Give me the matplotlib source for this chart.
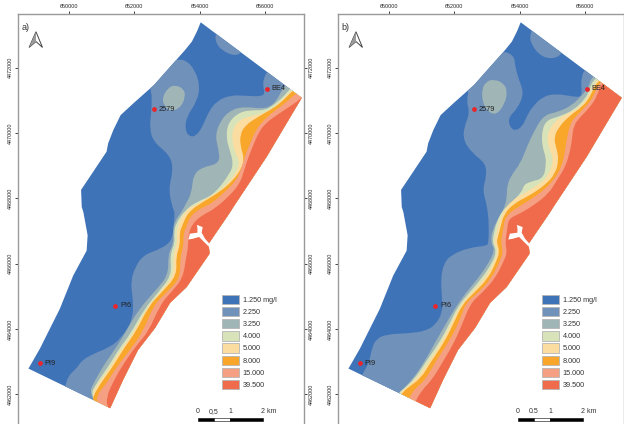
import matplotlib
matplotlib.use('Agg')
import matplotlib.pyplot as plt
from matplotlib.patches import Patch, PathPatch, Polygon, Rectangle
from matplotlib.path import Path

plt.rcParams['font.family'] = ['Liberation Sans', 'DejaVu Sans']

# all map vertices are km east of 650000 / km north of 4462000
classes = ['1.250 mg/l', '2.250', '3.250', '4.000', '5.000', '8.000', '15.000', '39.500']
colors = ['#3F73B8', '#7091B9', '#A0B5B6', '#D9E3B9', '#FBDDA2', '#F8A72B', '#F5A083', '#EF6B4B']

xticks_km = [650, 652, 654, 656]
yticks_km = [4462, 4464, 4466, 4468, 4470, 4472]

wells = ['BE4', '2579', 'PI6', 'PI9']
well_e = [6.05, 2.61, 1.42, -0.89]
well_n = [9.35, 8.73, 2.72, 0.96]

outline = [(4.03, 11.39), (7.12, 9.08), (6.05, 7.28), (5.03, 5.74), (4.93, 5.58), (4.27, 4.61),
           (4.30, 4.31), (3.60, 3.29), (3.09, 2.80), (2.63, 2.03), (2.11, 1.36), (1.65, 0.44), (1.26, -0.42),
           (-1.24, 0.79), (-0.89, 1.40), (-0.28, 2.62), (0.13, 3.64), (0.54, 4.40), (0.57, 4.87),
           (0.44, 5.58), (0.39, 5.74), (0.37, 6.26), (1.15, 7.43), (1.20, 7.69), (1.36, 8.10), (1.58, 8.55),
           (1.97, 8.91), (2.60, 9.47), (3.55, 10.54), (3.76, 10.80), (3.91, 11.10)]

estuary = [(3.91, 5.19), (4.09, 5.12), (4.06, 4.95), (4.16, 4.77), (4.34, 4.56), (4.27, 4.53),
           (4.09, 4.71), (3.98, 4.82), (3.81, 4.77), (3.65, 4.74), (3.70, 4.92), (3.93, 4.95),
           (3.93, 5.09)]

# panel a) closed patches
a_patch_225 = [(4.47, 11.00), (4.50, 10.75), (4.67, 10.54), (5.03, 10.36), (5.32, 10.46), (5.50, 11.0), (4.60, 11.4)]
a_patch_325 = [(3.24, 9.47), (3.50, 9.37), (3.57, 9.11), (3.40, 8.76), (3.09, 8.66), (2.89, 8.87), (2.86, 9.11), (3.04, 9.39)]

# panel a) class boundaries, NE edge to SW edge
a_225 = [(6.15, 9.98), (5.97, 9.74), (5.93, 9.44), (6.00, 9.21), (5.87, 9.12), (5.44, 9.14), (4.93, 9.16),
         (4.52, 8.98), (4.27, 8.65), (4.06, 8.14), (3.86, 7.89), (3.65, 7.91), (3.55, 8.14), (3.60, 8.50),
         (3.91, 8.96), (4.01, 9.42), (3.86, 9.93), (3.55, 10.26), (3.19, 10.23), (2.99, 10.08), (2.38, 9.62),
         (2.53, 9.32), (2.53, 8.71), (2.46, 8.19), (2.58, 7.73), (3.09, 7.32), (3.19, 6.87), (3.04, 6.26),
         (3.19, 5.64), (3.24, 5.58), (3.19, 5.07), (3.17, 4.85), (3.05, 4.60), (2.68, 4.41),
         (2.28, 4.26), (2.02, 3.90), (1.89, 3.44), (1.94, 3.03), (1.97, 2.62), (1.92, 2.32), (1.82, 2.06),
         (1.56, 1.70), (1.26, 1.45), (0.74, 1.24), (0.39, 1.04), (0.23, 0.79), (-0.02, 0.58), (-0.12, 0.22),
         (-0.22, 0.02)]
a_325 = [(6.66, 9.47), (6.51, 9.31), (6.36, 9.01), (6.15, 8.80), (5.85, 8.75), (5.44, 8.80), (5.03, 8.75),
         (4.67, 8.45), (4.47, 7.94), (4.57, 7.53), (4.62, 7.07), (4.06, 6.95), (3.80, 6.71), (3.75, 6.15),
         (3.55, 5.79), (3.45, 5.59), (3.23, 5.30), (3.18, 4.95), (3.20, 4.63), (3.03, 4.27), (3.04, 3.64),
         (2.60, 3.13), (2.12, 2.58), (1.77, 1.97), (1.46, 1.46), (1.10, 0.95), (0.80, 0.44), (0.57, -0.05)]
a_400 = [(6.76, 9.36), (6.56, 9.11), (6.25, 8.85), (6.00, 8.70), (5.64, 8.70), (5.23, 8.65), (4.88, 8.34),
         (4.80, 7.89), (4.93, 7.43), (5.03, 7.07), (4.93, 6.76), (4.42, 6.10), (3.91, 5.90), (3.55, 5.64),
         (3.27, 5.24), (3.21, 4.93), (3.24, 4.63), (3.09, 4.27), (3.14, 3.64), (2.73, 3.13), (2.28, 2.58),
         (1.89, 1.87), (1.54, 1.41), (1.17, 0.80), (0.87, 0.39), (0.60, -0.10)]
a_500 = [(6.87, 9.36), (6.66, 9.16), (6.36, 8.85), (6.05, 8.65), (5.74, 8.55), (5.28, 8.45), (5.03, 8.19),
         (4.98, 7.83), (5.08, 7.38), (5.23, 7.12), (5.13, 6.81), (4.77, 6.35), (4.31, 6.05), (3.80, 5.76),
         (3.60, 5.66), (3.35, 5.24), (3.29, 4.93), (3.31, 4.63), (3.19, 4.27), (3.21, 3.64), (2.79, 3.13),
         (2.33, 2.58), (1.97, 1.87), (1.61, 1.41), (1.24, 0.80), (0.93, 0.39), (0.62, -0.10)]
a_800 = [(6.92, 9.36), (6.76, 9.21), (6.46, 8.91), (6.15, 8.70), (5.79, 8.50), (5.39, 8.24), (5.23, 7.94),
         (5.25, 7.58), (5.36, 7.22), (5.28, 6.92), (5.03, 6.56), (4.62, 6.20), (4.11, 5.90), (3.65, 5.59),
         (3.45, 5.14), (3.38, 4.93), (3.40, 4.58), (3.27, 4.22), (3.30, 3.64), (2.84, 3.13), (2.43, 2.69),
         (2.05, 1.92), (1.71, 1.46), (1.31, 0.80), (1.00, 0.39), (0.73, -0.07), (0.74, -0.20)]
a_1500 = [(7.02, 9.26), (6.89, 9.16), (6.61, 8.91), (6.25, 8.65), (5.90, 8.34), (5.69, 8.04), (5.54, 7.68),
          (5.39, 7.32), (5.28, 6.92), (5.13, 6.56), (4.82, 6.25), (4.37, 5.84), (4.01, 5.69), (3.70, 5.44),
          (3.60, 5.14), (3.50, 4.93), (3.50, 4.53), (3.40, 4.17), (3.40, 3.54), (2.94, 3.08), (2.60, 2.74),
          (2.26, 1.92), (1.87, 1.36), (1.46, 0.85), (1.15, 0.34), (0.85, -0.02), (0.87, -0.30)]
a_3950 = [(7.17, 9.16), (7.05, 9.01), (6.66, 8.75), (6.36, 8.55), (6.00, 8.29), (5.79, 7.99), (5.64, 7.63),
          (5.49, 7.27), (5.36, 6.86), (5.23, 6.46), (4.93, 6.10), (4.47, 5.69), (4.11, 5.50), (3.95, 5.38),
          (3.80, 5.24), (3.65, 4.93), (3.65, 4.53), (3.58, 4.17), (3.48, 3.54), (3.08, 3.08), (2.79, 2.74),
          (2.43, 1.92), (2.07, 1.51), (1.61, 0.85), (1.33, 0.34), (1.15, -0.07), (1.17, -0.45)]

# panel b) closed patches
b_patch_225 = [(4.31, 11.00), (4.34, 10.75), (4.59, 10.39), (4.95, 10.26), (5.31, 10.39), (5.41, 11.05), (4.44, 11.36)]
b_patch_325 = [(3.21, 9.65), (3.52, 9.52), (3.62, 9.27), (3.55, 8.91), (3.29, 8.55), (3.01, 8.66), (2.86, 8.96), (2.84, 9.32), (2.96, 9.57)]

# panel b) class boundaries
b_225 = [(6.02, 10.03), (5.87, 9.67), (5.90, 9.27), (5.87, 9.11), (5.66, 9.11), (5.10, 9.21), (4.69, 9.11),
         (4.39, 8.80), (4.23, 8.55), (4.08, 8.19), (3.83, 8.06), (3.67, 8.24), (3.67, 8.50), (3.93, 8.75),
         (4.13, 9.21), (3.98, 9.62), (3.86, 10.03), (3.83, 10.39), (3.37, 10.54), (2.30, 9.47), (2.45, 9.30),
         (2.37, 9.01), (2.47, 8.60), (2.30, 8.19), (2.27, 7.79), (2.55, 7.38), (2.96, 7.07), (2.98, 6.66),
         (2.86, 6.26), (3.01, 5.74), (3.06, 5.15), (3.04, 4.64), (3.00, 4.55), (2.45, 4.49), (1.94, 4.29),
         (1.68, 4.03), (1.58, 3.52), (1.63, 2.91), (1.63, 2.50), (1.43, 2.14), (1.12, 1.94), (0.61, 1.87),
         (-0.10, 1.84), (-0.41, 1.68), (-0.53, 1.38), (-0.61, 0.97), (-0.82, 0.61), (-0.87, 0.46)]
b_325 = [(6.20, 9.78), (6.12, 9.41), (5.91, 9.16), (5.60, 8.85), (5.19, 8.65), (4.73, 8.55), (4.43, 8.04),
         (4.22, 7.58), (4.02, 7.07), (3.71, 6.66), (3.61, 6.35), (3.61, 6.10), (3.56, 5.79), (3.41, 5.49),
         (3.16, 5.05), (3.11, 4.64), (3.24, 4.44), (3.06, 4.03), (2.70, 3.52), (2.35, 3.11), (1.98, 2.58),
         (1.72, 2.12), (1.42, 1.61), (1.06, 0.95), (0.70, 0.44), (0.35, 0.08), (0.20, -0.05)]
b_400 = [(6.28, 9.72), (6.12, 9.30), (6.01, 9.06), (5.65, 8.70), (5.19, 8.50), (4.83, 8.40), (4.68, 8.09),
         (4.68, 7.63), (4.78, 7.32), (4.81, 7.07), (4.73, 6.61), (4.32, 6.51), (4.12, 6.41), (4.07, 6.20),
         (3.71, 5.84), (3.46, 5.62), (3.29, 5.26), (3.21, 4.95), (3.16, 4.64), (3.29, 4.39), (3.16, 4.03),
         (2.81, 3.52), (2.45, 3.11), (2.10, 2.69), (1.83, 2.12), (1.52, 1.56), (1.16, 1.05), (0.80, 0.49),
         (0.40, 0.13), (0.25, 0.0)]
b_500 = [(6.33, 9.68), (6.11, 9.11), (5.80, 8.75), (5.45, 8.60), (5.04, 8.34), (4.83, 7.94), (4.89, 7.53),
         (5.04, 7.22), (4.89, 6.71), (4.63, 6.46), (4.22, 6.20), (3.76, 5.95), (3.46, 5.55), (3.35, 5.20),
         (3.27, 4.90), (3.21, 4.64), (3.34, 4.39), (3.21, 4.03), (2.91, 3.52), (2.52, 3.11), (2.16, 2.69),
         (1.88, 2.12), (1.59, 1.56), (1.21, 1.0), (0.86, 0.49), (0.45, 0.13), (0.30, 0.0)]
b_800 = [(6.38, 9.65), (6.16, 9.11), (5.91, 8.80), (5.55, 8.55), (5.19, 8.19), (5.04, 7.83), (5.14, 7.48),
         (5.19, 7.17), (5.09, 6.76), (4.78, 6.41), (4.32, 6.10), (3.81, 5.84), (3.51, 5.50), (3.42, 5.15),
         (3.34, 4.85), (3.29, 4.64), (3.39, 4.39), (3.27, 4.03), (3.01, 3.52), (2.60, 3.11), (2.23, 2.74),
         (1.98, 2.18), (1.67, 1.56), (1.28, 1.0), (0.98, 0.49), (0.55, 0.19), (0.37, 0.0), (0.33, -0.10)]
b_1500 = [(6.44, 9.62), (6.26, 9.11), (6.01, 8.80), (5.70, 8.50), (5.55, 8.29), (5.45, 7.89), (5.40, 7.53),
          (5.29, 6.97), (5.04, 6.56), (4.73, 6.25), (4.32, 5.95), (3.87, 5.69), (3.56, 5.44), (3.49, 5.05),
          (3.42, 4.64), (3.49, 4.34), (3.37, 4.03), (3.11, 3.52), (2.72, 3.11), (2.34, 2.79), (2.13, 2.18),
          (1.83, 1.61), (1.42, 1.0), (1.11, 0.44), (0.81, 0.19), (0.63, -0.07), (0.60, -0.20)]
b_3950 = [(6.50, 9.60), (6.37, 9.11), (6.11, 8.75), (5.86, 8.50), (5.65, 8.24), (5.60, 7.83), (5.55, 7.48),
          (5.40, 6.97), (5.14, 6.56), (4.89, 6.15), (4.43, 5.79), (4.02, 5.54), (3.66, 5.38), (3.62, 5.07),
          (3.55, 4.64), (3.62, 4.34), (3.49, 4.03), (3.24, 3.54), (2.85, 3.11), (2.49, 2.79), (2.23, 2.12),
          (1.98, 1.56), (1.62, 0.95), (1.31, 0.44), (1.01, 0.13), (0.80, -0.22), (0.78, -0.35)]

offshore = [(2.0, -2.0), (10.0, -2.0), (10.0, 13.0)]

north_arrow = [(-1.01, 11.10), (-1.22, 10.62), (-1.01, 10.80), (-0.81, 10.62)]
north_inner = [(-1.01, 11.10), (-1.01, 10.80), (-1.22, 10.62)]

scale_ticks = [0, 0.5, 1, 2.17]

W, H = 624, 424
FRAME = '#9A9A9A'


def smooth_patch(verts, color, z):
    # quadratic segments so the class edges are not angular
    pts = list(verts)
    first = ((pts[-1][0] + pts[0][0]) / 2, (pts[-1][1] + pts[0][1]) / 2)
    path_v, path_c = [first], [Path.MOVETO]
    for i, p in enumerate(pts):
        q = pts[(i + 1) % len(pts)]
        path_v += [p, ((p[0] + q[0]) / 2, (p[1] + q[1]) / 2)]
        path_c += [Path.CURVE3, Path.CURVE3]
    return PathPatch(Path(path_v, path_c), fc=color, ec='none', zorder=z)


def draw_panel(ax, tag, layers, patch_225, patch_325, right_labels, scale_labels):
    ax.set_xlim(-1.56, 7.19)
    ax.set_ylim(-0.906, 11.644)

    base = Polygon(outline, closed=True, fc=colors[0], ec='none', zorder=1)
    ax.add_patch(base)

    for i, line in enumerate(layers):
        poly = smooth_patch(line + offshore, colors[i + 1], 2 + i)
        ax.add_patch(poly)
        poly.set_clip_path(base)
    # the two loose patches sit just above their class layer
    p = smooth_patch(patch_225, colors[1], 2)
    ax.add_patch(p)
    p.set_clip_path(base)
    ax.add_patch(smooth_patch(patch_325, colors[2], 3))
    ax.add_patch(Polygon(estuary, closed=True, fc='white', ec='none', zorder=12))

    ax.scatter(well_e, well_n, s=12, c='#E8262B', zorder=13, linewidths=0)
    for name, e, n in zip(wells, well_e, well_n):
        ax.annotate(name, (e, n), xytext=(3.4, 0), textcoords='offset points', fontsize=5.3,
                    va='center', color='#222222', zorder=14)

    ax.text(0.012, 0.968, tag, transform=ax.transAxes, fontsize=6.5, color='#333333', va='center')
    ax.add_patch(Polygon(north_arrow, closed=True, fc='white', ec='#444444', lw=0.7, zorder=5))
    ax.add_patch(Polygon(north_inner, closed=True, fc='#999999', ec='none', zorder=5))

    ax.set_xticks([(v - 650) for v in xticks_km])
    ax.set_xticklabels([f'{v * 1000}' for v in xticks_km])
    ax.set_yticks([(v - 4462) for v in yticks_km])
    ax.set_yticklabels([f'{v * 1000}' for v in yticks_km], rotation=90, va='center')
    ax.tick_params(top=True, labeltop=True, bottom=False, labelbottom=False, left=True,
                   right=True, labelright=right_labels, labelsize=3.9, length=2.5, width=0.7,
                   pad=1.2, color='#444444', labelcolor='#222222')
    for label in ax.get_yticklabels(which='major'):
        label.set_rotation(90)
        label.set_va('center')
    for spine in ax.spines.values():
        spine.set_color(FRAME)
        spine.set_linewidth(1.0)
    ax.spines['bottom'].set_visible(False)

    handles = [Patch(fc=c, ec='#B5B5B5', lw=0.6, label=t) for c, t in zip(colors, classes)]
    ax.legend(handles=handles, loc='upper left', bbox_to_anchor=(0.713, 0.3146), frameon=False, fontsize=5.2,
              handlelength=2.4, handleheight=1.6, labelspacing=0.39, handletextpad=0.48,
              borderpad=0, borderaxespad=0, labelcolor='#333333')

    # scale bar, 2 km long in map units
    x0, y0, h = 3.94, -0.80, 0.09
    for start, length, fc in [(0, 0.5, 'black'), (0.5, 0.5, 'white'), (1, 1, 'black')]:
        ax.add_patch(Rectangle((x0 + start, y0), length, h, fc=fc, ec='black', lw=0.4, zorder=6))
    for dist, txt in zip(scale_ticks, scale_labels):
        ax.text(x0 + dist, y0 + h + 0.07, txt, fontsize=5, ha='center', va='bottom', color='#333333')


fig = plt.figure(figsize=(W / 100, H / 100), dpi=100)
ax_a = fig.add_axes([18 / W, 0, 286 / W, (H - 14) / H])
ax_b = fig.add_axes([338 / W, 0, 286 / W, (H - 14) / H])

draw_panel(ax_a, 'a)', [a_225, a_325, a_400, a_500, a_800, a_1500, a_3950], a_patch_225, a_patch_325, True,
           ['0', '0,5', '1', '2 km'])
draw_panel(ax_b, 'b)', [b_225, b_325, b_400, b_500, b_800, b_1500, b_3950], b_patch_225, b_patch_325, False,
           ['0', '0.5', '1', '2 km'])

fig.savefig('out.png', dpi=100)
